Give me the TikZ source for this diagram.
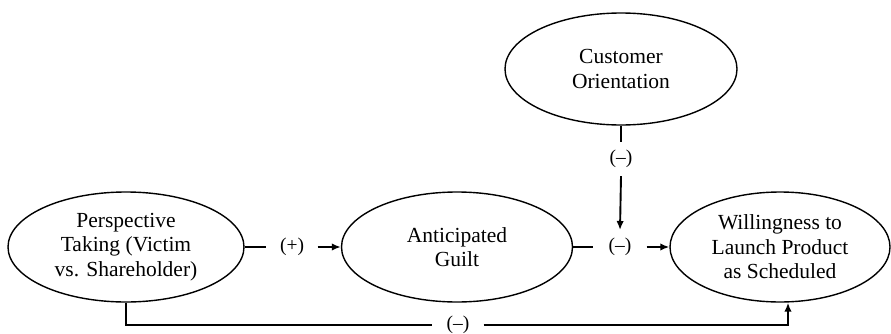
\documentclass[tikz,border=0pt]{standalone}
\usepackage{fontspec}
\setmainfont{Liberation Serif}
\usetikzlibrary{shapes.geometric,arrows.meta,calc}
\begin{document}
\begin{tikzpicture}[x=1pt,y=1pt,
  latent/.style={draw, line width=1.4pt, ellipse, inner sep=0pt, align=center,
    font=\rmfamily\fontsize{21.5}{24.5}\selectfont},
  lbl/.style={inner sep=0pt, font=\rmfamily\fontsize{19.5}{22}\selectfont},
  conn/.style={line width=1.9pt},
  arr/.style={conn, -{Latex[length=9pt,width=7.5pt]}}]
\useasboundingbox (0,0) rectangle (891,333);
\node[latent, minimum width=236, minimum height=110] (PT) at (126,86) {Perspective\\Taking (Victim\\vs. Shareholder)};
\node[latent, minimum width=231, minimum height=110] (AG) at (457,86) {Anticipated\\Guilt};
\node[latent, minimum width=220, minimum height=110] (WL) at (780,86) {Willingness to\\Launch Product\\as Scheduled};
\node[latent, minimum width=232, minimum height=112] (CO) at (621,264) {Customer\\Orientation};
% labels
\node[lbl, minimum width=51] (m1) at (292,86) {(+)};
\node[lbl, minimum width=53] (m2) at (620,86) {(–)};
\node[lbl, minimum height=34] (m3) at (621,174) {(–)};
\node[lbl, minimum width=51] (m4) at (458,8) {(–)};
\coordinate (mt) at ($(m2.center)+(0,17)$);
\coordinate (wb) at ($(WL.south)+(8,0)$);
% connectors
\draw[conn] (PT.south) |- (m4.west);
\draw[arr] (m4.east) -| (wb);
\draw[conn] (PT.east) -- (m1.west);
\draw[arr] (m1.east) -- (AG.west);
\draw[conn] (AG.east) -- (m2.west);
\draw[arr] (m2.east) -- (WL.west);
\draw[conn] (CO.south) -- (m3.north);
\draw[arr] (m3.south) -- (mt);
\end{tikzpicture}
\end{document}
